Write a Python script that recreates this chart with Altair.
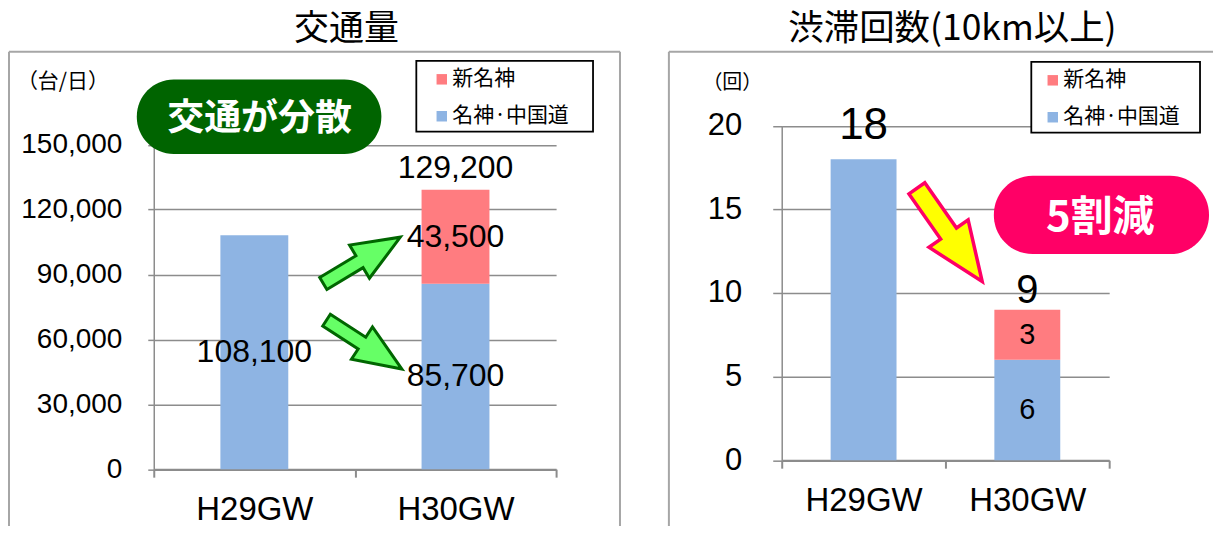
import altair as alt
import pandas as pd

# ---------------- data ----------------
categories = ["H29GW", "H30GW"]
series_order = ["新名神", "名神·中国道"]          # legend order
traffic_meishin = [108100, 85700]               # 名神·中国道
traffic_shinmeishin = [0, 43500]                # 新名神
jam_meishin = [18, 6]
jam_shinmeishin = [0, 3]
traffic_ticks = [0, 30000, 60000, 90000, 120000, 150000]
jam_ticks = [0, 5, 10, 15, 20]

BLUE = "#8EB4E3"
RED = "#FF7C80"
GRID = "#8C8C8C"
BORDER = "#A6A6A6"
NUM_FONT = "Liberation Sans"
JP_FONT = "Noto Sans CJK JP"

OY = 143.5          # common top of the two plot groups (page px)


def long_df(main, new):
    rows = []
    for i, c in enumerate(categories):
        lo = 0
        for name, v in [("名神·中国道", main[i]), ("新名神", new[i])]:
            rows.append(dict(cat=c, series=name, value=v, y0=lo, y1=lo + v, mid=lo + v / 2))
            lo += v
    return pd.DataFrame(rows)


def totals_df(main, new):
    return pd.DataFrame(dict(cat=categories, total=[a + b for a, b in zip(main, new)]))


one = pd.DataFrame({"a": [0]})


class Deco:
    """decorations given in page pixels, converted to the panel's own origin"""

    def __init__(self, ox):
        self.ox = ox

    def X(self, x):
        return alt.value(x - self.ox)

    def Y(self, y):
        return alt.value(y - OY)

    def text(self, txt, x, y, size, font=JP_FONT, weight="normal", color="black"):
        return alt.Chart(one).mark_text(
            text=txt, font=font, fontSize=size, fontWeight=weight, color=color,
            align="center", baseline="middle"
        ).encode(x=self.X(x), y=self.Y(y))

    def vrule(self, x, y1, y2, color=BORDER, w=2):
        return alt.Chart(one).mark_rule(color=color, strokeWidth=w).encode(
            x=self.X(x), y=self.Y(y1), y2=self.Y(y2))

    def hrule(self, x1, x2, y, color=BORDER, w=2):
        return alt.Chart(one).mark_rule(color=color, strokeWidth=w).encode(
            x=self.X(x1), x2=self.X(x2), y=self.Y(y))

    def box(self, x1, x2, y1, y2, fill="white", stroke="black", sw=1.8, radius=0):
        return alt.Chart(one).mark_rect(
            fill=fill, stroke=stroke, strokeWidth=sw, cornerRadius=radius
        ).encode(x=self.X(x1), x2=self.X(x2), y=self.Y(y1), y2=self.Y(y2))

    def arrow(self, x, y, length, angle, hw, headw, base, fill, stroke, sw=3):
        path = (f"M-1,-{hw}L{base},-{hw}L{base},-{headw}L1,0L{base},{headw}"
                f"L{base},{hw}L-1,{hw}Z")
        return alt.Chart(one).mark_point(
            shape=path, filled=True, fill=fill, stroke=stroke, strokeWidth=sw,
            strokeJoin="miter", size=length * length, angle=angle, opacity=1,
            fillOpacity=1, strokeOpacity=1
        ).encode(x=self.X(x), y=self.Y(y))


def bars_and_mids(df, ymax, ticks, y_bottom, y_top, bar_size, tick_font, tick_pad,
                  tick_size, legend_x, legend_y, mid_filter, mid_font, ox):
    xs = alt.X("cat:N", title=None,
               scale=alt.Scale(domain=categories, paddingInner=0, paddingOuter=0),
               axis=alt.Axis(labelFont=NUM_FONT, labelFontSize=33, labelColor="black",
                             labelAngle=0, labelPadding=16, tickSize=8, tickBand="extent",
                             domainColor=GRID, domainWidth=2, tickColor=GRID, tickWidth=2))
    ys = alt.Y("y1:Q", title=None,
               scale=alt.Scale(domain=[0, ymax], nice=False, zero=True,
                               range=[y_bottom - OY, y_top - OY]),
               axis=alt.Axis(values=ticks, format=",d", labelFont=NUM_FONT,
                             labelFontSize=tick_font, labelColor="black",
                             labelPadding=tick_pad, tickSize=tick_size, tickColor=GRID,
                             tickWidth=1.5, domainColor=GRID, domainWidth=1.5,
                             grid=True, gridColor=GRID, gridWidth=1.5))
    bars = alt.Chart(df).mark_bar(size=bar_size).encode(
        x=xs, y=ys, y2="y0:Q",
        color=alt.Color("series:N",
                        scale=alt.Scale(domain=series_order, range=[RED, BLUE]),
                        legend=alt.Legend(orient="none", legendX=legend_x - ox,
                                          legendY=legend_y - OY,
                                          title=None, symbolType="square", symbolSize=110,
                                          symbolStrokeWidth=0, labelFont=JP_FONT,
                                          labelFontSize=21, labelColor="black",
                                          rowPadding=15, padding=0, labelOffset=0)))
    mids = alt.Chart(df).transform_filter(mid_filter).mark_text(
        font=NUM_FONT, fontSize=mid_font, color="black", baseline="middle"
    ).encode(x="cat:N", y="mid:Q", text=alt.Text("value:Q", format=","))
    return bars, mids


# ---------------- left panel: 交通量 ----------------
LX = 152
L = Deco(LX)
tdf = long_df(traffic_meishin, traffic_shinmeishin)
ttot = totals_df(traffic_meishin, traffic_shinmeishin)
lbars, lmids = bars_and_mids(tdf, 150000, traffic_ticks, 468, 143, 68, 28, 26, 6,
                             430, 67, alt.datum.value > 0, 32, LX)
ltotal = alt.Chart(ttot).transform_filter(alt.datum.cat == "H30GW").mark_text(
    font=NUM_FONT, fontSize=32, color="black", baseline="middle", dy=-22
).encode(x="cat:N", y="total:Q", text=alt.Text("total:Q", format=","))

left = alt.layer(
    lbars, lmids, ltotal,
    L.text("交通量", 345, 27.5, 35),
    L.text("（台/日）", 61, 80, 21),
    L.vrule(7, 50, 525), L.hrule(7, 619, 50), L.vrule(619, 50, 525),
    L.box(135, 380, 77.7, 152.3, fill="#006400", stroke="#006400", sw=0, radius=37),
    L.text("交通が分散", 258, 117, 37, weight="bold", color="white"),
    L.arrow(360.4, 258.8, 90, 329, 0.155, 0.43, -0.06, "#66FF66", "#006600"),
    L.arrow(362.8, 343.2, 90, 33, 0.155, 0.43, -0.06, "#66FF66", "#006600"),
    L.box(415, 592, 59, 130),
).properties(width=555 - LX, height=468 - OY)

# ---------------- right panel: 渋滞回数 ----------------
RX = 781
R = Deco(RX)
jdf = long_df(jam_meishin, jam_shinmeishin)
jtot = totals_df(jam_meishin, jam_shinmeishin)
rbars, rmids = bars_and_mids(jdf, 20, jam_ticks, 459, 124, 66, 31, 31, 9,
                             1042, 68, (alt.datum.value > 0) & (alt.datum.cat == "H30GW"),
                             29, RX)
rtot_a = alt.Chart(jtot).transform_filter(alt.datum.cat == "H29GW").mark_text(
    font=NUM_FONT, fontSize=44, color="black", baseline="middle", dy=-33
).encode(x="cat:N", y="total:Q", text="total:Q")
rtot_b = alt.Chart(jtot).transform_filter(alt.datum.cat == "H30GW").mark_text(
    font=NUM_FONT, fontSize=40, color="black", baseline="middle", dy=-19
).encode(x="cat:N", y="total:Q", text="total:Q")

right = alt.layer(
    rbars, rmids, rtot_a, rtot_b,
    R.text("渋滞回数(10km以上)", 952, 27.5, 35.5),
    R.text("（回）", 731.5, 81, 20),
    R.vrule(668, 50, 525), R.hrule(668, 1213, 50),
    R.box(993.5, 1209, 174, 252.6, fill="#FF0066", stroke="#FF0066", sw=0, radius=39),
    R.text("5割減", 1100, 216, 42, weight="bold", color="white"),
    R.arrow(949.1, 233.4, 114, 55, 0.17, 0.42, -0.03, "#FFFF00", "#FF0066", sw=3.5),
    R.box(1031, 1200, 60, 131),
).properties(width=1109 - RX, height=459 - OY)

chart = alt.hconcat(left, right, spacing=47).resolve_scale(
    x="independent", y="independent", color="independent"
).resolve_legend(color="independent").configure(
    padding={"left": 0, "top": 4, "right": 0, "bottom": 0}, background="white"
).configure_view(stroke=None)

chart.save("out.html", embed_options={"renderer": "svg", "actions": False})
